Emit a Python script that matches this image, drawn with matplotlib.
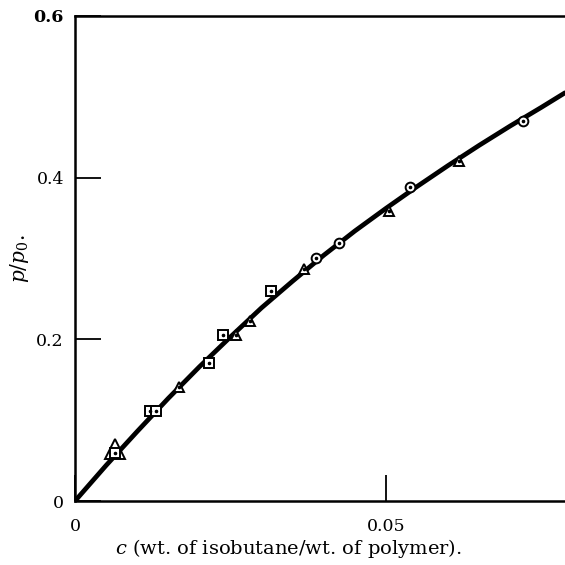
import numpy as np
import matplotlib
matplotlib.use('Agg')
import matplotlib.pyplot as plt

plt.rcParams['font.family'] = 'DejaVu Serif'
plt.rcParams['mathtext.fontset'] = 'dejavuserif'

# smooth curve
c_curve = [0.0, 0.005, 0.010, 0.015, 0.020, 0.025, 0.030, 0.035, 0.040,
           0.045, 0.050, 0.055, 0.060, 0.065, 0.070, 0.075, 0.0788]
p_curve = [0.0, 0.044, 0.086, 0.127, 0.166, 0.203, 0.239, 0.272, 0.304,
           0.334, 0.362, 0.389, 0.415, 0.440, 0.464, 0.487, 0.505]

# measured points, three sets
c_square = [0.0065, 0.0120, 0.0131, 0.0215, 0.0238, 0.0316]
p_square = [0.059, 0.111, 0.111, 0.171, 0.205, 0.260]

c_tri = [0.0168, 0.0259, 0.0282, 0.0369, 0.0505, 0.0618]
p_tri = [0.141, 0.205, 0.223, 0.287, 0.359, 0.421]

c_tri_big = [0.0065]
p_tri_big = [0.064]

c_circ = [0.0388, 0.0424, 0.0539, 0.0720]
p_circ = [0.301, 0.319, 0.389, 0.470]

fig = plt.figure(figsize=(5.65, 5.65), dpi=100)
ax = fig.add_axes([75 / 565, 64 / 565, 490 / 565, 485 / 565])

ax.plot(c_curve, p_curve, color='black', lw=3.4, solid_capstyle='round',
        solid_joinstyle='round', zorder=2)

mk = dict(mfc='white', mec='black', mew=1.4, ls='none', zorder=3)
ax.plot(c_tri_big, p_tri_big, marker='^', ms=15, **mk)
ax.plot(c_square, p_square, marker='s', ms=6.5, **mk)
ax.plot(c_tri, p_tri, marker='^', ms=7.5, **mk)
ax.plot(c_circ, p_circ, marker='o', ms=7, **mk)
all_c = c_square + c_tri + c_circ
all_p = p_square + p_tri + p_circ
ax.plot(all_c, all_p, marker='o', ms=1.6, color='black', ls='none', zorder=4)

ax.set_xlim(0, 0.0788)
ax.set_ylim(0, 0.6)
ax.spines['right'].set_visible(False)
for s in ['left', 'top', 'bottom']:
    ax.spines[s].set_linewidth(1.8)

ax.set_xticks([0, 0.05])
ax.set_xticklabels(['0', '0.05'])
ax.set_yticks([0, 0.2, 0.4, 0.6])
ax.set_yticklabels(['0', '0.2', '0.4', '0.6'])
ax.get_yticklabels()[-1].set_fontweight('bold')
ax.tick_params(axis='both', direction='in', length=19, width=1.3,
               labelsize=12.5, pad=8)
ax.tick_params(axis='x', pad=12)

ax.set_xlabel(r'$c$ (wt. of isobutane/wt. of polymer).', fontsize=14)
ax.xaxis.set_label_coords(0.435, -0.075)
ax.set_ylabel(r'$p/p_{0}$.', fontsize=14.5, labelpad=2)

fig.savefig('out.png', dpi=100)
